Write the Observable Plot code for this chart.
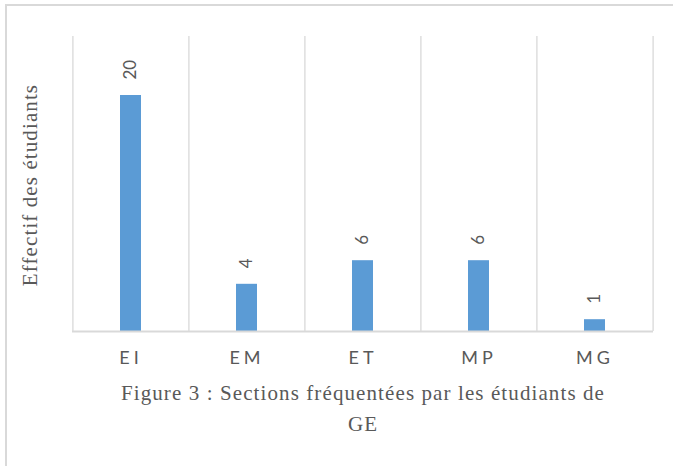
<!DOCTYPE html>
<html>
<head>
<meta charset="utf-8">
<script src="https://cdn.jsdelivr.net/npm/d3@7"></script>
<script src="https://cdn.jsdelivr.net/npm/@observablehq/plot@0.6"></script>
<style>
  html, body { margin: 0; padding: 0; background: #fff; overflow: hidden; }
  #wrap { position: relative; width: 673px; height: 466px; }
  #frame { position: absolute; left: 5px; top: 4px; width: 720px; height: 520px;
           border-left: 2px solid #d9d9d9; border-top: 2px solid #d9d9d9; }
  #chart { position: absolute; left: 0; top: 0; }
  #caption { position: absolute; left: 62px; top: 378px; width: 602px; text-align: center;
             font-family: "Liberation Serif", "DejaVu Serif", serif; font-size: 21px;
             letter-spacing: 1.1px; line-height: 31px; color: #595959; white-space: nowrap; }
  #chart svg g[aria-label="x-axis tick label"] text { letter-spacing: 4px; }
</style>
</head>
<body>
<div id="wrap">
  <div id="frame"></div>
  <div id="chart"></div>
  <div id="caption">Figure 3 : Sections fréquentées par les étudiants de<br>GE</div>
</div>
<script>
const categories = ["EI", "EM", "ET", "MP", "MG"];
const values = [20, 4, 6, 6, 1];
const yLabel = "Effectif des étudiants";
const yMax = 25;

const data = categories.map((c, i) => ({cat: c, n: values[i]}));

const W = 673, H = 375;
const mL = 72, mR = 20, mT = 36, mB = 44;
const step = (W - mL - mR) / categories.length;

const chart = Plot.plot({
  width: W,
  height: H,
  marginLeft: mL,
  marginRight: mR,
  marginTop: mT,
  marginBottom: mB,
  style: {background: "transparent", color: "#595959"},
  x: {domain: categories, paddingInner: 0.82, paddingOuter: 0.41, label: null,
      tickSize: 0, tickPadding: 20},
  y: {domain: [0, yMax], axis: null},
  marks: [
    Plot.ruleX(categories, {x: d => d, dx: -step / 2, y1: 0, y2: yMax, stroke: "#d9d9d9", strokeWidth: 1.3}),
    Plot.ruleX(categories.slice(-1), {x: d => d, dx: step / 2, y1: 0, y2: yMax, stroke: "#d9d9d9", strokeWidth: 1.3}),
    Plot.barY(data, {x: "cat", y: "n", fill: "#5b9bd5"}),
    Plot.ruleY([0], {stroke: "#d9d9d9", strokeWidth: 2}),
    Plot.text(data, {x: "cat", y: "n", text: d => String(d.n), rotate: -90, textAnchor: "start",
                     dy: -16, fill: "#595959", fontSize: 17,
                     fontFamily: "Lato, sans-serif"}),
    Plot.text([yLabel], {frameAnchor: "left", text: d => d, rotate: -90, textAnchor: "middle",
                         dx: -42, dy: 1, fill: "#595959", fontSize: 21,
                         fontFamily: "Liberation Serif, serif"})
  ]
});

const sel = d3.select(chart);
sel.selectAll('g[aria-label="x-axis tick label"]')
  .attr("font-size", 18).attr("font-family", "Lato, sans-serif").attr("fill", "#595959");
sel.selectAll("text").filter(function() { return this.textContent === yLabel; })
  .attr("letter-spacing", "1.1px").style("letter-spacing", "1.1px");
document.getElementById("chart").appendChild(chart);
</script>
</body>
</html>
